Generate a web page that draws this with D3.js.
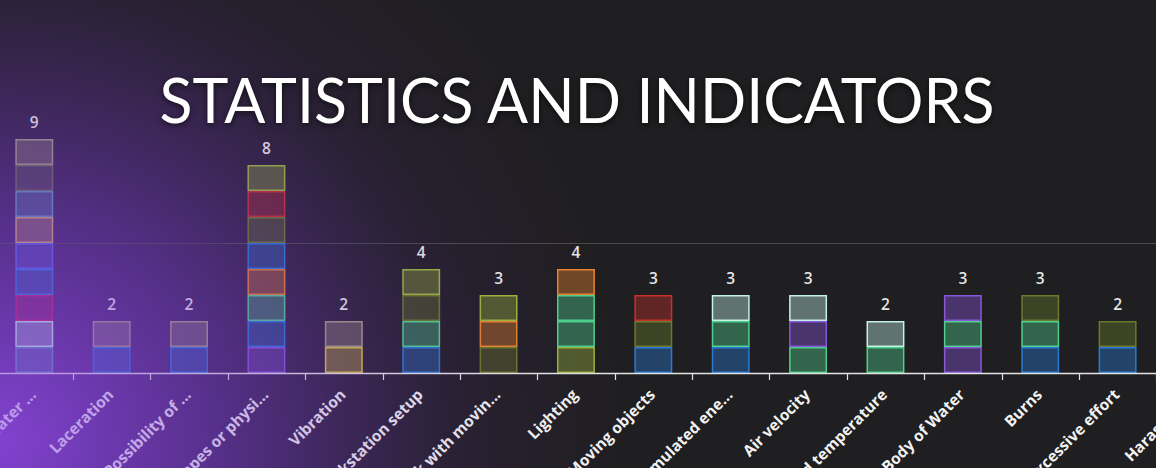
<!DOCTYPE html>
<html>
<head>
<meta charset="utf-8">
<script src="https://cdn.jsdelivr.net/npm/d3@7"></script>
<style>
  html, body { margin: 0; padding: 0; background: #1f1e20; overflow: hidden; }
  svg { display: block; }
</style>
</head>
<body>
<div class="bar_chart"></div>
<script>
// hazard categories (x axis), full names - truncated for the tick labels
var categories = ["Falls in water bodies", "Laceration", "Possibility of falling",
  "Shapes or physical loads", "Vibration", "Workstation setup", "Work with moving parts",
  "Lighting", "Moving objects", "Accumulated energy", "Air velocity", "Cold temperature",
  "Body of Water", "Burns", "Excessive effort", "Harassment"];

// one list per category, one entry per stacked block, bottom to top
var blocks = [
  ["steel", "mint", "crimson", "blue", "indigo", "tan", "steel", "charcoal", "grey"],
  ["blue", "grey"],
  ["blue", "grey"],
  ["purple", "blue", "emerald", "orange", "blue", "moss", "red", "olive"],
  ["yellow", "grey"],
  ["blue", "emerald", "moss", "olive"],
  ["moss", "orange", "olive"],
  ["olive", "emerald", "emerald", "orange"],
  ["blue", "moss", "red"],
  ["blue", "emerald", "mint"],
  ["emerald", "purple", "mint"],
  ["emerald", "mint"],
  ["purple", "emerald", "purple"],
  ["blue", "emerald", "moss"],
  ["blue", "moss"],
  ["blue", "emerald"]
];

var gridTicks = [5];

var palette = {
  olive: "#9cb43c", moss: "#6b7a2c", emerald: "#4fd08e", orange: "#e8842e",
  red: "#c8302e", blue: "#2a7ad6", mint: "#c4f2e4", purple: "#8a56dc",
  grey: "#a49c80", yellow: "#d8c43c", steel: "#5f93bc", tan: "#d0a46c",
  charcoal: "#6a6a5a", crimson: "#c0206a", indigo: "#5a66ea"
};

var width = 1156,
    height = 468,
    baseY = 373;

var x = d3.scaleBand()
    .domain(categories)
    .range([-4.4, -4.4 + categories.length * 77.38])
    .padding(0);

var y = d3.scaleLinear()
    .domain([0, 10])
    .range([baseY, baseY - 260]);

var barW = x.bandwidth() * 0.49;

function shortName(d) {
  return d.length > 17 ? d.slice(0, 15) + "..." : d;
}

var svg = d3.select(".bar_chart")
    .append("svg")
    .attr("width", width)
    .attr("height", height);

var defs = svg.append("defs");

var glow = defs.append("radialGradient")
    .attr("id", "glow")
    .attr("gradientUnits", "userSpaceOnUse")
    .attr("cx", 0).attr("cy", 440).attr("r", 640);
glow.append("stop").attr("offset", 0).attr("stop-color", "#8a44e0").attr("stop-opacity", 0.75);
glow.append("stop").attr("offset", 0.35).attr("stop-color", "#6a34b0").attr("stop-opacity", 0.45);
glow.append("stop").attr("offset", 0.7).attr("stop-color", "#4a2a70").attr("stop-opacity", 0.12);
glow.append("stop").attr("offset", 1).attr("stop-color", "#4a2a70").attr("stop-opacity", 0);

var tint = defs.append("radialGradient")
    .attr("id", "tint")
    .attr("gradientUnits", "userSpaceOnUse")
    .attr("cx", 0).attr("cy", 440).attr("r", 620);
tint.append("stop").attr("offset", 0).attr("stop-color", "#9048e8").attr("stop-opacity", 0.55);
tint.append("stop").attr("offset", 0.4).attr("stop-color", "#7a3cd0").attr("stop-opacity", 0.32);
tint.append("stop").attr("offset", 0.8).attr("stop-color", "#6030a0").attr("stop-opacity", 0.05);
tint.append("stop").attr("offset", 1).attr("stop-color", "#6030a0").attr("stop-opacity", 0);

svg.append("rect").attr("width", width).attr("height", height).attr("fill", "#1f1e20");
svg.append("rect").attr("width", width).attr("height", height).attr("fill", "url(#glow)");

var chart = svg.append("g");

// gridline
chart.append("g")
    .selectAll("line")
    .data(gridTicks)
    .enter().append("line")
    .attr("x1", 0).attr("x2", width)
    .attr("y1", function(d) { return y(d) + 0.5; })
    .attr("y2", function(d) { return y(d) + 0.5; })
    .attr("stroke", "#4a4a4c")
    .attr("stroke-width", 1);

// stacked blocks
var bars = chart.append("g")
    .selectAll("g")
    .data(categories)
    .enter().append("g")
    .attr("transform", function(d) { return "translate(" + (x(d) + x.bandwidth() / 2 - barW / 2) + ",0)"; });

bars.selectAll("rect")
    .data(function(d, i) { return blocks[i]; })
    .enter().append("rect")
    .attr("x", 0.75)
    .attr("y", function(d, i) { return y(i + 1) + 0.75; })
    .attr("width", barW - 1.5)
    .attr("height", function(d, i) { return y(i) - y(i + 1) - 1.5; })
    .attr("fill", function(d) { return palette[d]; })
    .attr("fill-opacity", 0.4)
    .attr("stroke", function(d) { return palette[d]; })
    .attr("stroke-width", 1.5);

// totals on top
chart.append("g")
    .selectAll("text")
    .data(categories)
    .enter().append("text")
    .attr("x", function(d) { return x(d) + x.bandwidth() / 2; })
    .attr("y", function(d, i) { return y(blocks[i].length) - 11; })
    .attr("text-anchor", "middle")
    .attr("font-family", "Open Sans")
    .attr("font-weight", 600)
    .attr("font-size", 15.5)
    .attr("fill", "#e6e6e6")
    .text(function(d, i) { return blocks[i].length; });

// x-axis
var xAxis = chart.append("g")
    .attr("transform", "translate(0," + baseY + ")")
    .call(d3.axisBottom(x).tickSize(0).tickPadding(0).tickFormat(shortName));

xAxis.select(".domain").remove();
xAxis.append("line")
    .attr("x1", 0).attr("x2", width)
    .attr("y1", 0.5).attr("y2", 0.5)
    .attr("stroke", "#e4e4e4")
    .attr("stroke-width", 1.5);

xAxis.append("g")
    .selectAll("line")
    .data(categories.slice(1))
    .enter().append("line")
    .attr("x1", function(d) { return Math.round(x(d)) + 0.5; })
    .attr("x2", function(d) { return Math.round(x(d)) + 0.5; })
    .attr("y1", 0).attr("y2", 7)
    .attr("stroke", "#e4e4e4")
    .attr("stroke-width", 1.2);

xAxis.selectAll(".tick text")
    .attr("x", 0).attr("y", 0).attr("dy", "0.35em")
    .attr("transform", "translate(-1,19) rotate(-45)")
    .attr("text-anchor", "end")
    .attr("font-family", "Open Sans")
    .attr("font-weight", 700)
    .attr("font-size", 15.5)
    .attr("fill", "#f2f2f2");

// purple light over the chart
svg.append("rect")
    .attr("width", width).attr("height", height)
    .attr("fill", "url(#tint)")
    .attr("pointer-events", "none");

// title
svg.append("text")
    .attr("x", 577)
    .attr("y", 123)
    .attr("text-anchor", "middle")
    .attr("font-family", "Lato")
    .attr("font-weight", 400)
    .attr("font-size", 62)
    .attr("textLength", 835)
    .attr("lengthAdjust", "spacingAndGlyphs")
    .attr("fill", "#ffffff")
    .style("text-shadow", "0 2px 6px rgba(0,0,0,0.6)")
    .text("STATISTICS AND INDICATORS");
</script>
</body>
</html>
